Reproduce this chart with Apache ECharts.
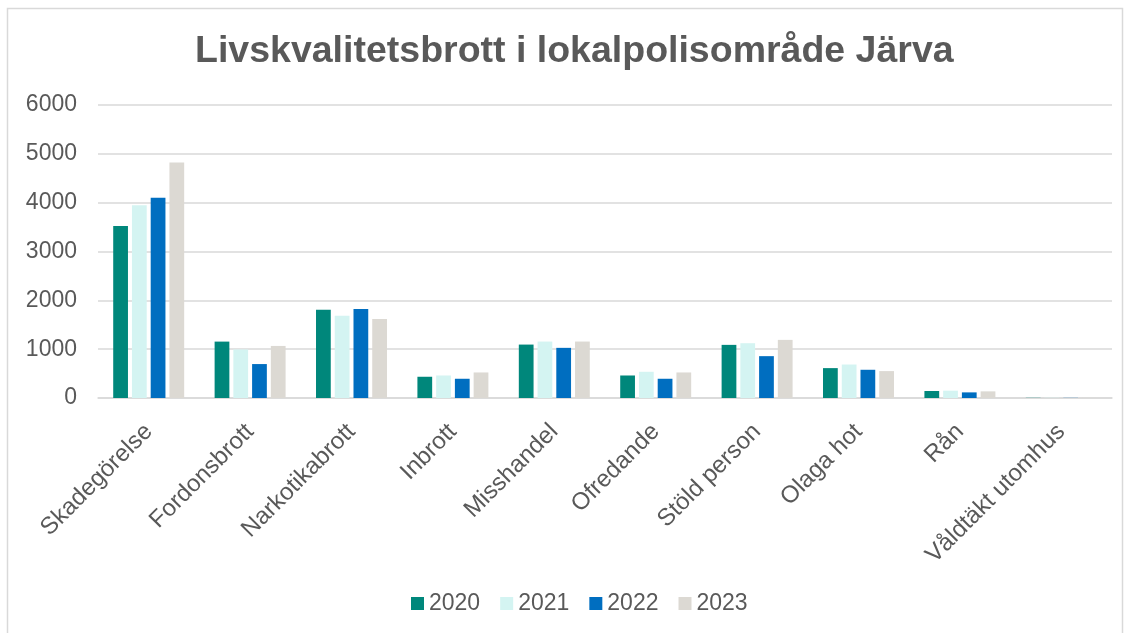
<!DOCTYPE html>
<html>
<head>
    <meta charset="UTF-8">
    <title>Livskvalitetsbrott i lokalpolisområde Järva</title>
    <script src="https://cdn.jsdelivr.net/npm/echarts@6/dist/echarts.min.js"></script>
    <style>
        html, body { margin: 0; padding: 0; background: #fff; }
        #chart { width: 1133px; height: 633px; }
    </style>
</head>
<body>
    <div id="chart"></div>
    <script>
    // data
    var categories = ['Skadegörelse', 'Fordonsbrott', 'Narkotikabrott', 'Inbrott', 'Misshandel',
        'Ofredande', 'Stöld person', 'Olaga hot', 'Rån', 'Våldtäkt utomhus'];
    var years = ['2020', '2021', '2022', '2023'];
    var v2020 = [3520, 1155, 1808, 435, 1094, 461, 1088, 612, 143, 4];
    var v2021 = [3945, 995, 1685, 461, 1156, 537, 1122, 686, 150, 5];
    var v2022 = [4100, 695, 1822, 394, 1027, 394, 857, 578, 115, 3];
    var v2023 = [4822, 1066, 1616, 523, 1156, 523, 1190, 551, 136, 4];
    var yTicks = [0, 1000, 2000, 3000, 4000, 5000, 6000];

    var colors = ['#00877b', '#d4f4f2', '#006ec0', '#dcd9d3'];
    var values = [v2020, v2021, v2022, v2023];
    var txt = '#595959';

    var chart = echarts.init(document.getElementById('chart'));

    var series = years.map(function (y, i) {
        return {
            name: y,
            type: 'bar',
            data: values[i],
            barGap: '27%',
            barCategoryGap: '30%',
            itemStyle: { color: colors[i] }
        };
    });

    var option = {
        animation: false,
        color: colors,
        textStyle: { fontFamily: 'Liberation Sans, Arial, sans-serif' },
        graphic: [{
            type: 'rect',
            shape: { x: 7.5, y: 8.5, width: 1115, height: 640 },
            style: { fill: 'none', stroke: '#d9d9d9', lineWidth: 1.5 },
            silent: true
        }],
        title: {
            text: 'Livskvalitetsbrott i lokalpolisområde Järva',
            left: 190,
            top: 28,
            textStyle: { color: txt, fontSize: 37.5, fontWeight: 'bold' }
        },
        legend: {
            data: years,
            bottom: 13,
            left: 406,
            icon: 'rect',
            itemWidth: 13,
            itemHeight: 13,
            itemGap: 20,
            textStyle: { color: txt, fontSize: 23 }
        },
        grid: { left: 98, right: 21, top: 105, bottom: 235, containLabel: false },
        xAxis: {
            type: 'category',
            data: categories,
            axisTick: { show: false },
            axisLine: { lineStyle: { color: '#d9d9d9', width: 1.5 } },
            axisLabel: { rotate: 45, color: txt, fontSize: 24, interval: 0, margin: 30 }
        },
        yAxis: {
            type: 'value',
            min: yTicks[0],
            max: yTicks[yTicks.length - 1],
            interval: 1000,
            axisLine: { show: false },
            axisTick: { show: false },
            splitLine: { lineStyle: { color: '#d9d9d9', width: 1.5 } },
            axisLabel: {
                color: txt, fontSize: 23, margin: 21,
                formatter: function (v) { return String(v); }
            }
        },
        series: series
    };

    chart.setOption(option);
    </script>
</body>
</html>
